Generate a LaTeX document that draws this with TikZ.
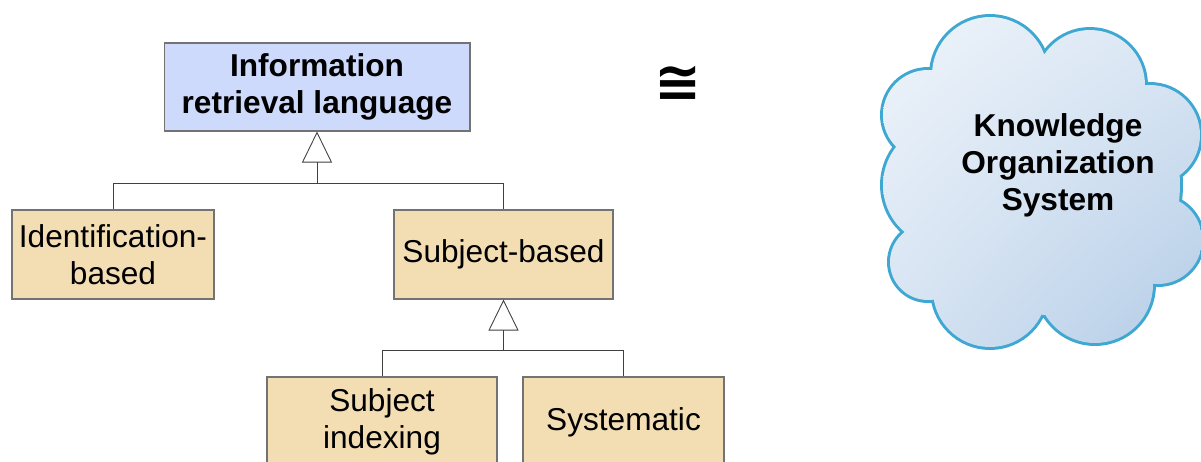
\documentclass[tikz,border=0pt]{standalone}
\usepackage{fontspec}
\setmainfont{Liberation Sans}
\newfontfamily\symbfont{DejaVu Sans}
\usetikzlibrary{arrows.meta,calc,positioning,shadings}

\definecolor{irlblue}{RGB}{205,218,252}
\definecolor{boxwheat}{RGB}{243,222,180}
\definecolor{cloudedge}{RGB}{62,168,210}
\definecolor{cloudlight}{RGB}{240,245,251}
\definecolor{clouddark}{RGB}{178,203,230}

% union of circles that makes the cloud
\newcommand\cloudbody{%
  (990,75) circle (1.16cm) (1090,85) circle (1.10cm)
  (1150,135) circle (1.0cm) (928,115) circle (0.9cm)
  (945,185) circle (1.24cm) (928,262) circle (0.76cm)
  (990,290) circle (1.14cm) (1095,285) circle (1.16cm)
  (1158,240) circle (0.88cm) (1050,185) circle (2.6cm)}

\begin{document}
\begin{tikzpicture}[
  x=0.02cm,y=-0.02cm,
  font=\fontsize{18}{21}\selectfont,
  clsbox/.style={draw=black!55,line width=0.6pt,align=center,inner sep=2pt},
  irlbox/.style={clsbox,fill=irlblue,font=\fontsize{18}{21}\selectfont\bfseries},
  langbox/.style={clsbox,fill=boxwheat},
  wire/.style={draw=black!75,line width=0.5pt},
  gen/.style={wire,-{Triangle[length=0.62cm,width=0.6cm,fill=white]}},
]
\useasboundingbox (0,0) rectangle (1201,461);
\clip (0,0) rectangle (1201,461);

%% ---------------------------------------------
%%  class hierarchy of retrieval languages
%% ---------------------------------------------
\node[irlbox,minimum width=6.12cm,minimum height=1.76cm] (irl) at (317,87)
     {Information\\retrieval language};

\node[langbox,minimum width=4.04cm,minimum height=1.78cm] (ident) at (113,254.5)
     {Identification-\\based};
\node[langbox,minimum width=4.38cm,minimum height=1.78cm] (subj) at (503.5,254.5)
     {Subject-based};

\node[langbox,minimum width=4.6cm,minimum height=1.8cm] (sidx) at (382,422)
     {Subject\\indexing};
\node[langbox,minimum width=4.02cm,minimum height=1.8cm] (syst) at (623.5,422)
     {Systematic};

% generalisation to irl
\coordinate (j1) at ($(irl.south)+(0,52)$);
\draw[gen] (j1) -- (irl.south);
\draw[wire] (ident.north) |- (j1) -| (subj.north);

% generalisation to subj
\coordinate (j2) at ($(subj.south)+(0,51)$);
\draw[gen] (j2) -- (subj.south);
\draw[wire] (sidx.north) |- (j2) -| (syst.north);

%% ---------------------------------------------
%%  congruence sign and the cloud
%% ---------------------------------------------
\node[font=\symbfont\bfseries\fontsize{32}{32}\selectfont] (cong) at (678,84) {≅};

\draw[cloudedge,line width=3.4pt] \cloudbody;
\begin{scope}
  \clip \cloudbody;
  \shade[upper left=cloudlight,upper right=cloudlight!70!clouddark,
         lower left=cloudlight!60!clouddark,lower right=clouddark]
        (870,0) rectangle (1201,360);
\end{scope}

\node[font=\fontsize{18}{21}\selectfont\bfseries,align=center] (kos) at (1058,165)
     {Knowledge\\Organization\\System};

\end{tikzpicture}
\end{document}
